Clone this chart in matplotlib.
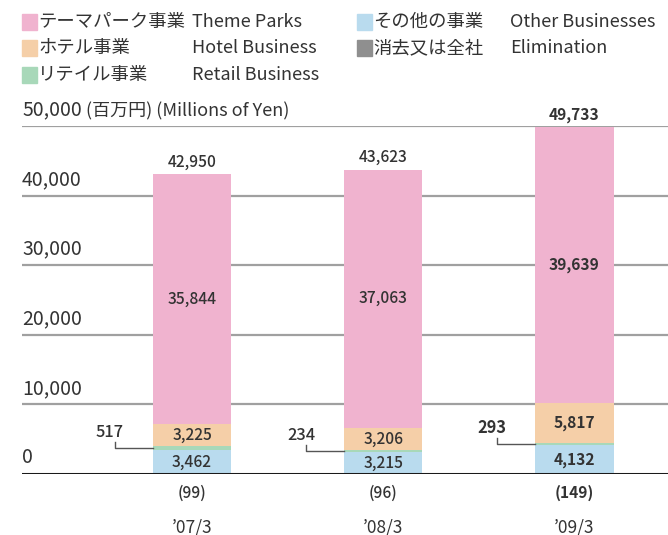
import matplotlib
matplotlib.use("Agg")
import matplotlib.pyplot as plt
from matplotlib.patches import Rectangle

plt.rcParams['font.family'] = ['Noto Sans CJK JP', 'DejaVu Sans']

years = ["’07/3", "’08/3", "’09/3"]
other = [3462, 3215, 4132]
retail = [517, 234, 293]
hotel = [3225, 3206, 5817]
theme = [35844, 37063, 39639]
elim = [-99, -96, -149]
totals = [42950, 43623, 49733]
yticks = [0, 10000, 20000, 30000, 40000, 50000]
unit_label = "(百万円) (Millions of Yen)"

legend_items = [
    ("テーマパーク事業", "Theme Parks", "#F0B3CF"),
    ("ホテル事業", "Hotel Business", "#F5CFA8"),
    ("リテイル事業", "Retail Business", "#A8D8B9"),
    ("その他の事業", "Other Businesses", "#B9DBEE"),
    ("消去又は全社", "Elimination", "#8F8F8F"),
]

W, H = 668, 535
fig = plt.figure(figsize=(W / 100, H / 100), dpi=100)
ax = fig.add_axes([22 / W, (H - 474) / H, 1 - 22 / W, (474 - 126) / H])
x0 = [0, 1, 2]
ax.set_xlim(-0.89, 2.49)
ax.set_ylim(0, 50000)
ax.axis('off')

tc = '#333333'
c_theme, c_hotel, c_retail, c_other = "#F0B3CF", "#F5CFA8", "#A8D8B9", "#B9DBEE"

# gridlines
for v in yticks:
    if v == 0:
        ax.axhline(v, color='#1a1a1a', lw=2.2, zorder=3)
        lab = "0"
    else:
        ax.axhline(v, color='#A0A0A0', lw=1.6, zorder=1)
        lab = f"{v:,}"
    ax.text(0.0, v + 800, lab, transform=ax.get_yaxis_transform(), ha='left', va='bottom',
            fontsize=14, color=tc)
ax.text((86 - 22) / (W - 22), 50000 + 800, unit_label, transform=ax.get_yaxis_transform(),
        ha='left', va='bottom', fontsize=13, color=tc)

w = 0.41
ax.bar(x0, other, w, color=c_other, zorder=2)
bot = [o for o in other]
ax.bar(x0, retail, w, bottom=bot, color=c_retail, zorder=2)
bot2 = [o + r for o, r in zip(other, retail)]
ax.bar(x0, hotel, w, bottom=bot2, color=c_hotel, zorder=2)
bot3 = [b + h for b, h in zip(bot2, hotel)]
ax.bar(x0, theme, w, bottom=bot3, color=c_theme, zorder=2)

for i, x in enumerate(x0):
    fw = 'bold' if i == 2 else 'medium'
    fs = 11.2
    ax.text(x, other[i] / 2, f"{other[i]:,}", ha='center', va='center', fontsize=fs, color=tc, weight=fw, zorder=4)
    ax.text(x, bot2[i] + hotel[i] / 2, f"{hotel[i]:,}", ha='center', va='center', fontsize=fs, color=tc, weight=fw, zorder=4)
    ax.text(x, bot3[i] + theme[i] / 2, f"{theme[i]:,}", ha='center', va='center', fontsize=fs, color=tc, weight=fw, zorder=4)
    ax.text(x, bot3[i] + theme[i] + 500, f"{totals[i]:,}", ha='center', va='bottom', fontsize=fs, color=tc,
            weight='bold' if i == 2 else 'medium', zorder=4)
    # retail leader
    edge = x - w / 2
    mid = other[i] + retail[i] / 2
    ax.plot([edge - 0.2, edge - 0.2, edge], [mid + 900, mid, mid], color='#555555', lw=1, zorder=4, clip_on=False)
    ax.text(edge - 0.225, mid + 1000, f"{retail[i]:,}", ha='center', va='bottom', fontsize=11.8, color=tc, weight=fw)
    # elimination
    ax.text(x, -2730, f"({abs(elim[i])})", ha='center', va='center', fontsize=11.2, color=tc, weight=fw, clip_on=False)
    ax.text(x, -7650, years[i], ha='center', va='center', fontsize=12.5, color=tc, clip_on=False)

# legend
positions = [(22, 38, 192, 22), (22, 38, 192, 48), (22, 38, 192, 75), (357, 373, 510, 22), (357, 373, 510, 48)]
for (jp, en, col), (sx, jx, ex, y) in zip(legend_items, positions):
    fig.patches.append(Rectangle((sx / W, (H - y - 8) / H), 15 / W, 16 / H, transform=fig.transFigure,
                                 color=col, zorder=3))
    fig.text(jx / W, (H - y) / H, jp, ha='left', va='center', fontsize=13.2, color=tc)
    fig.text(ex / W, (H - y) / H, en, ha='left', va='center', fontsize=13, color=tc)

fig.savefig("out.png", dpi=100, facecolor='white')
